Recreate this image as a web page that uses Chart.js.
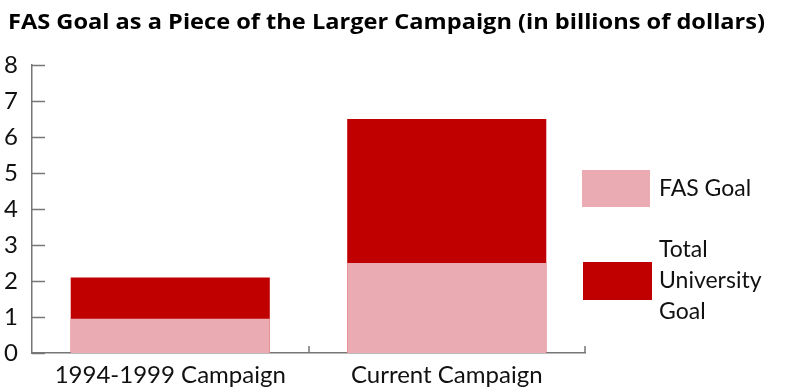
<!doctype html>
<html lang="en">
  <head>
    <meta charset="utf-8">
    <title>FAS Goal as a Piece of the Larger Campaign</title>
    <style>
      html, body { margin: 0; padding: 0; background: #fff; }
      #wrap { width: 800px; height: 389px; position: relative; }
    </style>
  </head>
  <body>
    <div id="wrap"><canvas id="chart"></canvas></div>
    <script src="https://cdn.jsdelivr.net/npm/chart.js@4.4.1/dist/chart.umd.min.js"></script>
    <script>
      // values in billions of dollars
      const campaigns = ['1994-1999 Campaign', 'Current Campaign'];
      const fasGoal = [0.95, 2.5];
      const universityGoal = [2.1, 6.5];
      const yTicks = [0, 1, 2, 3, 4, 5, 6, 7, 8];

      const pink = '#ebabb3';
      const red = '#c00000';
      const axisGrey = '#777';
      const fontFamily = 'Lato, "Open Sans", sans-serif';
      const titleText = 'FAS Goal as a Piece of the Larger Campaign (in billions of dollars)';

      // title, inward ticks and the big-box legend
      const decorations = {
        id: 'decorations',
        afterDraw(chart) {
          const ctx = chart.ctx;
          const x = chart.scales.x, y = chart.scales.y;
          const area = chart.chartArea;
          ctx.save();

          ctx.strokeStyle = axisGrey;
          ctx.lineWidth = 1.5;
          ctx.beginPath();
          y.ticks.forEach((t, i) => {
            const py = Math.round(y.getPixelForTick(i)) + 0.5;
            ctx.moveTo(area.left, py);
            ctx.lineTo(area.left + 13, py);
          });
          const half = (x.getPixelForTick(1) - x.getPixelForTick(0)) / 2;
          x.ticks.forEach((t, i) => {
            const px = Math.round(x.getPixelForTick(i) + half);
            ctx.moveTo(px, area.bottom);
            ctx.lineTo(px, area.bottom - 7);
          });
          ctx.stroke();

          // title, stretched to the width it has in the original
          ctx.fillStyle = '#000';
          ctx.font = 'bold 22px "Open Sans", Lato, sans-serif';
          ctx.textBaseline = 'middle';
          ctx.textAlign = 'left';
          const w = ctx.measureText(titleText).width;
          ctx.save();
          ctx.translate(8, 23);
          ctx.scale(757 / w, 1);
          ctx.fillText(titleText, 0, 0);
          ctx.restore();

          const items = [
            { ds: chart.data.datasets[0], box: [582, 170, 68, 37], lines: ['FAS Goal'], textY: 189 },
            { ds: chart.data.datasets[1], box: [583, 262, 69, 38], lines: ['Total', 'University', 'Goal'], textY: 250 }
          ];
          ctx.font = '23px ' + fontFamily;
          items.forEach(it => {
            ctx.fillStyle = it.ds.backgroundColor;
            ctx.fillRect(...it.box);
            ctx.fillStyle = '#111';
            it.lines.forEach((l, i) => ctx.fillText(l, 659, it.textY + i * 31));
          });
          ctx.restore();
        }
      };

      const ctx = document.getElementById('chart').getContext('2d');
      const myChart = new Chart(ctx, {
        type: 'bar',
        data: {
          labels: campaigns,
          datasets: [
            { label: 'FAS Goal', data: fasGoal, backgroundColor: pink, order: 0 },
            { label: 'Total University Goal', data: universityGoal, backgroundColor: red, order: 1 }
          ]
        },
        plugins: [decorations],
        options: {
          responsive: true,
          maintainAspectRatio: false,
          animation: false,
          events: [],
          layout: { padding: { top: 65, right: 215, left: 0, bottom: 0 } },
          datasets: {
            bar: { grouped: false, categoryPercentage: 1, barPercentage: 0.72, borderWidth: 0 }
          },
          plugins: {
            legend: { display: false },
            title: { display: false },
            tooltip: { enabled: false }
          },
          scales: {
            x: {
              grid: { display: false },
              border: { display: true, color: axisGrey, width: 1.5 },
              ticks: { color: '#111', font: { family: fontFamily, size: 24 }, padding: 0 },
              afterFit: s => { s.height = 36; }
            },
            y: {
              min: 0,
              max: 8,
              afterBuildTicks: s => { s.ticks = yTicks.map(v => ({ value: v })); },
              grid: { display: false },
              border: { display: true, color: axisGrey, width: 1.5 },
              ticks: { color: '#111', font: { family: fontFamily, size: 24 }, padding: 6 },
              afterFit: s => { s.width = 32; }
            }
          }
        }
      });
    </script>
  </body>
</html>
